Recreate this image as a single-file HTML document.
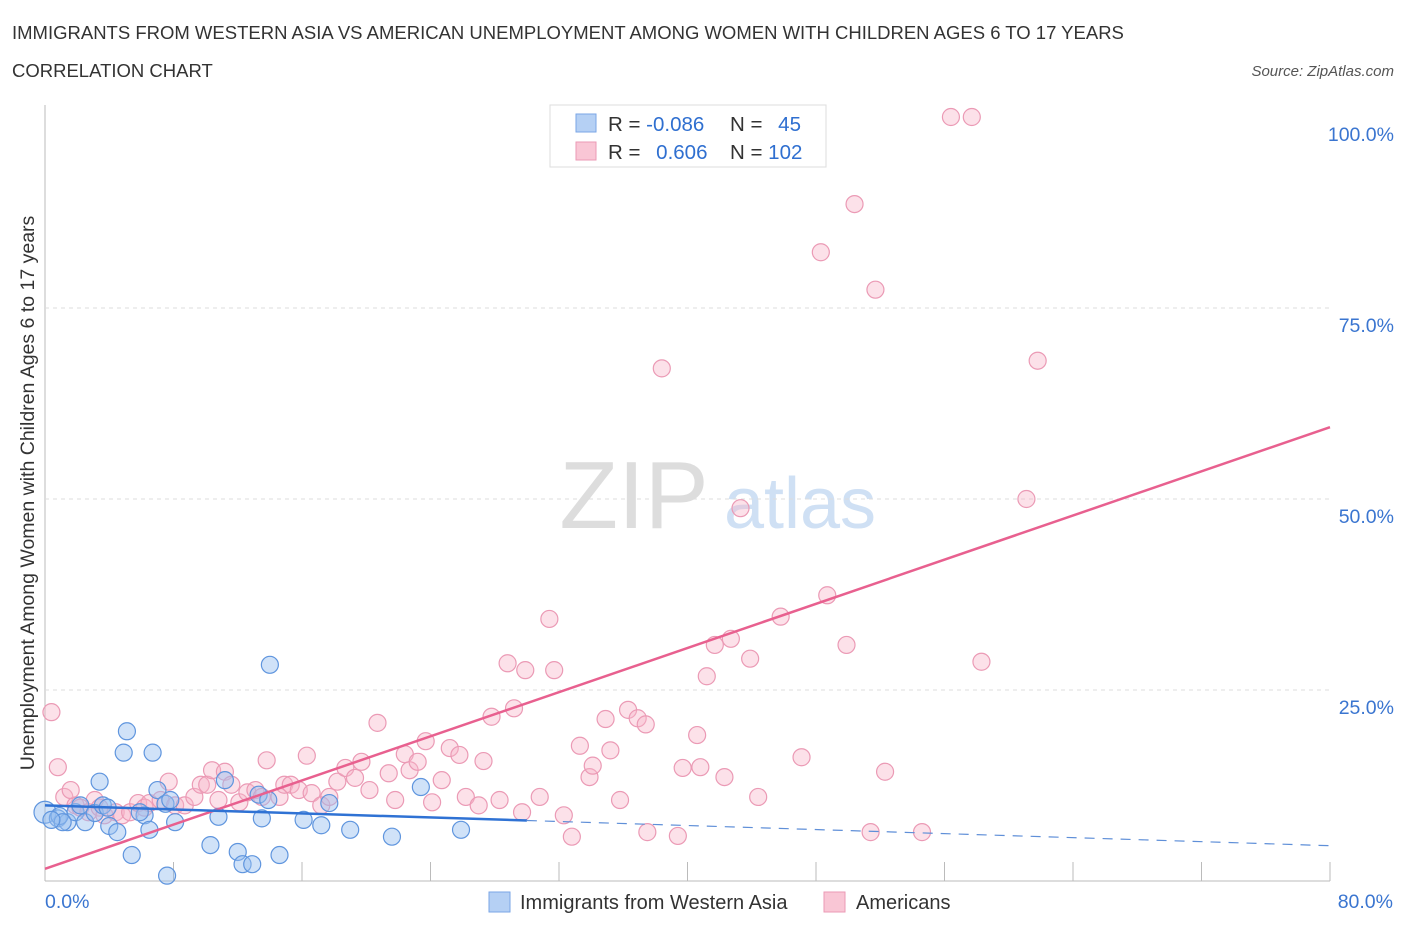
<!DOCTYPE html>
<html><head><meta charset="utf-8"><style>
body{margin:0;background:#fff;font-family:"Liberation Sans",sans-serif;}
svg text{font-family:"Liberation Sans",sans-serif;}
</style></head><body>
<svg id="c" width="1406" height="930">
<text x="12" y="39" font-size="18.5" fill="#333">IMMIGRANTS FROM WESTERN ASIA VS AMERICAN UNEMPLOYMENT AMONG WOMEN WITH CHILDREN AGES 6 TO 17 YEARS</text>
<text x="12" y="77" font-size="18.5" fill="#333">CORRELATION CHART</text>
<text x="1394" y="76" font-size="15" fill="#555" font-style="italic" text-anchor="end">Source: ZipAtlas.com</text>
<text x="634" y="528" font-size="96" fill="#ddd" font-family="Liberation Serif" text-anchor="middle">ZIP</text>
<text x="800" y="528" font-size="72" fill="#cfe0f4" text-anchor="middle">atlas</text>
<text transform="translate(34,493) rotate(-90)" font-size="19.5" fill="#333" text-anchor="middle">Unemployment Among Women with Children Ages 6 to 17 years</text>
<g id="grid"></g><g id="pts"></g><g id="lines"></g>
<g>
<rect x="550" y="105" width="276" height="62" fill="#fff" stroke="#ddd"/>
<rect x="576" y="114" width="20" height="18" fill="#b5d0f4" stroke="#7aa6e6"/>
<rect x="576" y="142" width="20" height="18" fill="#f9c6d5" stroke="#eb9ab5"/>
<text x="608" y="131" font-size="20.5" fill="#333">R = <tspan fill="#2f6fd0">-0.086</tspan></text>
<text x="730" y="131" font-size="20.5" fill="#333">N = <tspan fill="#2f6fd0" dx="10">45</tspan></text>
<text x="608" y="159" font-size="20.5" fill="#333">R = <tspan fill="#2f6fd0" dx="10">0.606</tspan></text>
<text x="730" y="159" font-size="20.5" fill="#333">N = <tspan fill="#2f6fd0">102</tspan></text>
</g>
<g>
<rect x="489" y="892" width="21" height="20" fill="#b5d0f4" stroke="#7aa6e6"/>
<text x="520" y="909" font-size="20" fill="#333">Immigrants from Western Asia</text>
<rect x="824" y="892" width="21" height="20" fill="#f9c6d5" stroke="#eb9ab5"/>
<text x="856" y="909" font-size="20" fill="#333">Americans</text>
</g>
</svg>
<script>
const blueX=[0,0.8,1.4,1.9,2.2,2.5,3.1,3.4,3.6,4.0,4.5,4.9,5.1,5.4,6.2,6.5,6.7,7.0,7.5,7.6,8.1,10.3,10.8,11.2,12.0,12.3,12.9,13.3,13.5,14.0,13.9,14.6,16.1,17.2,17.7,19.0,21.6,23.4,25.9,0.9,5.9,3.9,1.1,0.4,7.8];
const blueY=[9.0,8.2,7.7,9.0,9.9,7.7,8.9,13.0,9.9,7.2,6.4,16.8,19.6,3.4,8.6,6.7,16.8,11.9,10.1,0.7,7.7,4.7,8.4,13.2,3.8,2.2,2.2,11.3,8.2,28.3,10.6,3.4,8.0,7.3,10.2,6.7,5.8,12.3,6.7,8.5,9.0,9.6,7.7,8.0,10.6];
const pinkX=[0.4,0.8,1.2,1.9,2.2,2.7,3.1,3.4,3.7,4.4,4.8,5.3,5.8,6.2,6.5,7.2,7.7,8.1,8.7,9.3,9.7,10.1,10.4,10.8,11.2,11.6,12.1,12.6,13.1,13.5,13.8,14.6,14.9,15.3,15.8,16.3,16.6,17.2,17.7,18.2,18.7,19.3,19.7,20.2,20.7,21.4,21.8,22.4,22.7,23.2,23.7,24.1,24.7,25.2,25.8,26.2,27.0,27.3,27.8,28.3,28.8,29.2,29.7,29.9,30.8,31.4,31.7,32.3,32.8,33.3,33.9,34.1,34.9,35.2,35.8,36.3,36.9,37.4,37.5,38.4,39.4,39.7,40.6,40.8,41.2,41.7,42.3,42.7,43.9,44.4,45.8,47.1,48.7,49.9,50.4,51.4,51.7,52.3,54.6,56.4,57.7,58.3,61.1,61.8,48.3,43.3,1.6];
const pinkY=[22.1,14.9,11.0,9.9,9.6,9.0,10.6,9.6,8.6,9.0,8.6,9.0,10.2,9.6,10.2,10.6,13.0,9.9,9.9,11.0,12.6,12.6,14.5,10.6,14.3,12.6,10.3,11.6,11.9,11.0,15.8,11.0,12.6,12.6,11.9,16.4,11.5,9.9,11.0,13.0,14.8,13.5,15.6,11.9,20.7,14.1,10.6,16.6,14.5,15.6,18.3,10.3,13.2,17.4,16.5,11.0,9.9,15.7,21.5,10.6,28.5,22.6,9.0,27.6,11.0,34.3,27.6,8.6,5.8,17.7,13.6,15.1,21.2,17.1,10.6,22.4,21.3,20.5,6.4,67.1,5.9,14.8,19.1,14.9,26.8,30.9,13.6,31.7,29.1,11.0,34.6,16.2,37.4,30.9,88.6,6.4,77.4,14.3,6.4,100,100,28.7,50.0,68.1,82.3,48.8,11.9];
const xTicks=[0,80];const yTicks=[25,50,75,100];
const pinkFit=[1.6,0.7225];const blueFit=[9.9,-0.066];
const X=v=>45+v*1285/80, Y=v=>881-v*7.64;
const NS="http://www.w3.org/2000/svg";
function mk(p,t,a){const e=document.createElementNS(NS,t);for(const k in a)e.setAttribute(k,a[k]);document.getElementById(p).appendChild(e);return e;}
mk('grid','line',{x1:45,y1:105,x2:45,y2:881,stroke:'#bbb'});
mk('grid','line',{x1:45,y1:881,x2:1330,y2:881,stroke:'#bbb'});
for(let i=0;i<=10;i++){mk('grid','line',{x1:X(i*8),y1:862,x2:X(i*8),y2:881,stroke:'#bbb'});}
yTicks.forEach(v=>{
 if(v<100){const g=mk('grid','line',{x1:45,y1:Y(v),x2:1330,y2:Y(v),stroke:'#ddd','stroke-dasharray':'4,4'});
 
 }
 const t=mk('grid','text',{x:1394,y:Y(v)+24,'font-size':19.5,fill:'#3a75d0','text-anchor':'end'});t.textContent=v.toFixed(1)+'%';
 
 
});
xTicks.forEach((v,i)=>{const t=mk('grid','text',{x:i?1393:45,y:908,'font-size':19.5,fill:'#3a75d0','text-anchor':i?'end':'start'});t.textContent=v.toFixed(1)+'%';
 
 });
pinkX.forEach((x,i)=>{const c=mk('pts','circle',{cx:X(x),cy:Y(pinkY[i]),r:8.5,fill:'rgba(248,180,200,0.4)',stroke:'#eb9ab5','stroke-width':1.2});
 
 });
blueX.forEach((x,i)=>{const c=mk('pts','circle',{cx:X(x),cy:Y(blueY[i]),r:i==0?11:8.5,fill:'rgba(150,190,240,0.45)',stroke:'#5f95de','stroke-width':1.2});
 
 });
let l=mk('lines','line',{x1:X(0),y1:Y(pinkFit[0]),x2:X(80),y2:Y(pinkFit[0]+pinkFit[1]*80),stroke:'#e8608f','stroke-width':2.5});


l=mk('lines','line',{x1:X(0),y1:Y(blueFit[0]),x2:X(30),y2:Y(blueFit[0]+blueFit[1]*30),stroke:'#2f72d4','stroke-width':2.5});


l=mk('lines','line',{x1:X(30),y1:Y(blueFit[0]+blueFit[1]*30),x2:X(80),y2:Y(blueFit[0]+blueFit[1]*80),stroke:'#5f8fd8','stroke-width':1.2,'stroke-dasharray':'10,8'});


</script>
</body></html>
